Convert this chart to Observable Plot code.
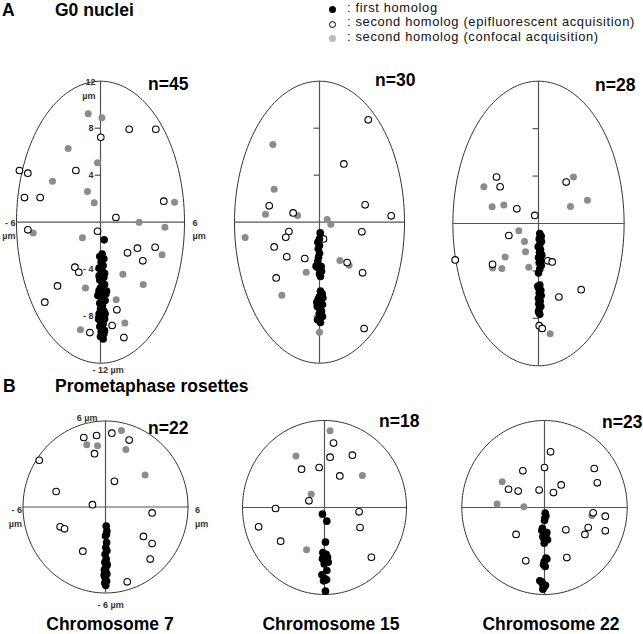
<!DOCTYPE html>
<html><head><meta charset="utf-8">
<script src="https://cdn.jsdelivr.net/npm/d3@7"></script>
<script src="https://cdn.jsdelivr.net/npm/@observablehq/plot@0.6"></script>
<style>
body{margin:0;background:#fff;}
#fig{position:relative;width:643px;height:634px;overflow:hidden;font-family:"Liberation Sans",Arial,sans-serif;color:#000;}
.t{position:absolute;white-space:nowrap;line-height:1;}
.b{font-weight:bold;font-size:17.5px;}
.c{text-align:center;width:200px;}
.lg{font-size:12.9px;letter-spacing:0.65px;color:#111;}
.mk{position:absolute;width:7px;height:7px;border-radius:50%;box-sizing:border-box;}
</style>
</head><body>
<div id="fig"></div>
<script>
// ---------- text ----------
const rowTitles = [["A", "G0 nuclei"], ["B", "Prometaphase rosettes"]];
const chromosomes = ["Chromosome 7", "Chromosome 15", "Chromosome 22"];
const countsG0 = [45, 30, 28];
const countsPro = [22, 18, 23];
const legendLabels = [": first homolog", ": second homolog (epifluorescent acquisition)", ": second homolog (confocal acquisition)"];
const g0TickValues = [8, 4, -4, -8];
const g0TickLabels = ["8", "4", "- 4", "- 8"];

// ---------- data (µm) ----------
// G0 nuclei, chromosome 7
const g0c7First = [[0.26,-1.5],[0.12,-2.7],[-0.05,-2.92],[0.24,-3.12],[0.05,-3.4],[0.19,-3.69],[-0.1,-3.91],[0.14,-4.17],[0,-4.45],[0.24,-4.68],[-0.05,-4.91],[0.12,-5.14],[0.29,-5.31],[0,-5.59],[0.19,-5.82],[-0.1,-6.04],[0.24,-6.24],[0.07,-6.47],[0.33,-6.67],[-0.05,-6.89],[0.14,-7.09],[0,-7.38],[0.24,-7.57],[-0.1,-7.8],[0.12,-8.03],[0.29,-8.23],[0,-8.43],[0.19,-8.65],[-0.05,-8.88],[0.14,-9.08],[0.05,-9.31],[0.24,-9.5],[0,-9.73],[0.19,-9.93],[0.43,-5.87],[0.38,-6.1],[-0.19,-6.24],[0.1,-6.01],[0.29,-4.34],[-0.1,-4.57],[0.33,-7.8],[-0.14,-8.23],[0.1,-9.62],[0.29,-9.22],[-0.1,-5.82]];
const g0c7Epi = [[0.02,7.23],[2.05,7.91],[3.95,7.91],[-5.79,4.4],[-5.19,4.17],[-1.76,4.4],[-5.43,2.1],[-4.31,2.1],[4.52,1.79],[1.1,0.4],[-5.19,-0.65],[-0.21,-0.77],[1.93,-2.61],[2.64,-2.21],[3.9,-2.13],[3.02,-3.29],[-1.83,-3.83],[-1.55,-4.26],[-3.07,-5.42],[-3.98,-6.81],[1.17,-7.46],[0.83,-8.79],[-0.76,-9.39],[1.67,-9.82]];
const g0c7Conf = [[-0.88,9.22],[0.1,8.88],[-2.31,6.27],[-0.21,5.05],[-3.43,3.49],[-0.93,2.61],[-0.45,1.65],[5.29,1.7],[2.76,0],[4.6,-0.43],[-4.81,-0.91],[-1.29,-1.33],[4.4,-2.78],[1.6,-4.43],[3.05,-5.3],[-1.07,-5.59],[1.12,-6.61],[1.74,-8.57],[-1.43,-9.16]];
// G0 nuclei, chromosome 15
const g0c15First = [[0.05,-0.91],[-0.12,-1.7],[0,-1.99],[-0.09,-2.27],[0,-2.64],[-0.07,-2.98],[-0.12,-3.32],[-0.24,-3.74],[-0.09,-3.89],[0.07,-4.06],[0,-4.4],[0.14,-4.17],[0.07,-4.62],[0.07,-5.87],[0.19,-6.1],[0,-6.33],[-0.09,-6.55],[0.07,-6.78],[0.21,-7.0],[-0.16,-7.18],[0.02,-7.38],[0.14,-7.57],[-0.02,-7.8],[0.21,-8.03],[-0.14,-8.31],[0.07,-8.54],[0,-1.42],[0.24,-6.44],[-0.19,-6.81],[0.12,-3.77]];
const g0c15Epi = [[3.44,8.71],[1.72,4.96],[-3.55,1.39],[3.22,1.48],[-1.86,0.79],[5.06,0.54],[-2.16,-0.79],[-2.38,-1.28],[2.99,-0.82],[0.28,-1.42],[-3.2,-2.1],[-2.31,-2.95],[-1.04,-3.09],[1.95,-3.43],[3.04,-4.31],[-3.06,-4.74],[3.15,-9.05]];
const g0c15Conf = [[-3.29,6.61],[-3.2,2.81],[-3.81,0.68],[-1.55,0.57],[0.54,0.23],[0.8,-0.17],[-5.25,-1.3],[1.44,-3.26],[2.09,-3.66],[-0.94,-4.26],[-2.66,-6.21],[0,-9.36]];
// G0 nuclei, chromosome 22
const g0c22First = [[0.09,-0.85],[0.19,-1.07],[0.05,-1.3],[0.21,-1.52],[0.09,-1.75],[-0.02,-1.97],[0.14,-2.2],[0.07,-2.42],[0.23,-2.65],[0,-2.87],[0.16,-3.1],[0.05,-3.32],[0.19,-3.55],[0.09,-3.83],[0,-4.17],[0.09,-5.18],[0,-5.41],[0.16,-5.63],[0.05,-5.86],[0.19,-6.08],[0,-6.31],[0.12,-6.54],[0.02,-6.76],[0.16,-6.99],[0.05,-7.21],[0,-7.44],[0.09,-7.66],[-0.05,-5.3]];
const g0c22Epi = [[-2.94,3.92],[-2.69,3.1],[1.94,3.49],[-1.52,1.24],[-0.26,0.68],[-2.08,-1.01],[-5.84,-3.07],[-3.22,-3.44],[0.65,-3.15],[0.96,-3.24],[2.99,-5.58],[1.43,-6.2],[0.05,-8.62],[0.26,-8.85]];
const g0c22Conf = [[-3.83,3.1],[-3.25,1.41],[-2.43,1.55],[2.45,3.92],[3.43,1.97],[2.24,1.44],[-1.38,-0.62],[-0.98,-1.52],[-0.91,-2.39],[-2.34,-2.82],[-3.22,-3.75],[-2.57,-3.8],[-0.68,-3.69],[0.82,-9.3]];
// Prometaphase rosettes, chromosome 7
const pro7First = [[0.05,-1.33],[0.1,-1.68],[0,-2.02],[0.08,-2.48],[0.02,-2.83],[0.1,-3.06],[0.05,-3.63],[-0.05,-3.86],[0.1,-4.09],[0,-4.25],[-0.08,-4.39],[0.05,-4.55],[0.1,-4.67],[-0.05,-4.85],[0,-5.01],[0.08,-5.17],[-0.05,-5.31],[0.02,-5.47],[0.07,-1.9],[-0.03,-3.3],[0.12,-4.0],[-0.1,-4.75]];
const pro7Epi = [[-1.58,4.85],[-0.65,4.99],[0.46,5.15],[1.72,4.67],[-0.8,3.72],[-4.82,3.26],[0.65,1.79],[-3.59,1.08],[-0.95,0.16],[3.39,-0.41],[-3.3,-1.38],[-2.98,-1.52],[2.76,-2.05],[3.39,-2.55],[-1.65,-3.08],[3.25,-3.63],[1.58,-5.22]];
const pro7Conf = [[1.16,5.33],[-1.36,4.34],[-0.58,4.28],[1.48,4.02],[2.88,2.23]];
// Prometaphase rosettes, chromosome 15
const pro15First = [[-0.15,-0.46],[0.17,-0.94],[0.07,-2.39],[0.12,-3.22],[-0.07,-3.33],[0.22,-3.43],[-0.15,-3.54],[0.1,-3.66],[0.27,-3.77],[-0.02,-3.89],[0.17,-4.34],[-0.19,-4.64],[0.05,-4.92],[-0.07,-5.06],[0.07,-5.77],[0,-3.72],[0.15,-4.99],[-0.12,-3.1]];
const pro15Epi = [[0.66,4.44],[0.41,3.47],[2.04,3.61],[-1.68,2.64],[-0.39,2.76],[1.12,2.18],[-1.14,0.46],[-3.58,-0.07],[2.53,-0.3],[-4.82,-1.33],[2.6,-1.38],[-3.21,-2.32],[3.43,-3.43]];
const pro15Conf = [[0.41,5.29],[-2.09,3.56],[2.77,2.21],[-0.97,0.92],[-1.31,-2.92]];
// Prometaphase rosettes, chromosome 22
const pro22First = [[0.05,-0.39],[0.1,-0.57],[0.02,-0.74],[-0.15,-1.43],[-0.19,-1.59],[0.1,-1.89],[-0.07,-2.11],[0.22,-2.23],[-0.02,-2.46],[0.1,-3.49],[-0.02,-3.72],[-0.07,-3.95],[-0.34,-5.06],[-0.15,-5.26],[-0.02,-5.49],[-0.12,-5.63],[0,-0.9],[0.17,-1.72],[-0.12,-2.0],[0.17,-3.56],[0.05,-4.07],[-0.19,-5.13],[0.07,-5.36]];
const pro22Epi = [[0.44,3.84],[-1.57,2.53],[0,2.76],[3.61,2.69],[3.83,1.7],[-2.61,1.26],[-1.91,1.13],[-0.39,1.2],[1.21,1.56],[0.65,1.03],[3.53,-0.37],[4.41,-0.6],[3.17,-1.38],[2.93,-1.86],[4.41,-1.61],[1.55,-1.54],[-2.06,-1.86],[1.62,-3.45],[-1.36,-3.68]];
const pro22Conf = [[-3.07,1.77],[-3.44,0.25],[-1.5,0.05],[3.44,-0.55]];

// ---------- layout ----------
const fig = document.getElementById("fig");
const FONT = '"Liberation Sans", Arial, sans-serif';
const W = 220, LCX = 110;

function addText(txt, cls, left, top, extra) {
  const d = document.createElement("div");
  d.className = "t " + cls;
  d.textContent = txt;
  d.style.left = left + "px";
  d.style.top = top + "px";
  if (extra) Object.assign(d.style, extra);
  fig.appendChild(d);
  return d;
}

const pts = a => a.map(([x, y]) => ({x, y}));

function panel(cfg) {
  const {first, epi, conf, yMax, cx, cy, rx, ry, top, height, labels, ticks} = cfg;
  const lcy = cy - top;
  const outline = d3.range(0, 361, 2).map(a => ({x: 6 * Math.cos(a * Math.PI / 180), y: yMax * Math.sin(a * Math.PI / 180)}));
  const lbl = {fontSize: 9, fontWeight: "bold", fill: "#333", fontFamily: FONT};
  const marks = [
    Plot.line(outline, {x: "x", y: "y", stroke: "#333", strokeWidth: 1}),
    Plot.ruleX([0], {y1: -yMax, y2: yMax, stroke: "#555", strokeWidth: 1.2}),
    Plot.ruleY([0], {x1: -6, x2: 6, stroke: "#555", strokeWidth: 1.2})
  ];
  if (ticks) marks.push(Plot.ruleY(g0TickValues, {x1: -0.38, x2: 0, stroke: "#555", strokeWidth: 1.2}));
  marks.push(
    Plot.dot(pts(conf), {x: "x", y: "y", r: 3.5, fill: "#8c8c8c", stroke: null}),
    Plot.dot(pts(epi), {x: "x", y: "y", r: 3.3, fill: "white", stroke: "black", strokeWidth: 1.1}),
    Plot.dot(pts(first), {x: "x", y: "y", r: 3.8, fill: "black", stroke: null})
  );
  if (labels === "g0") {
    marks.push(
      Plot.text(g0TickValues.map((v, i) => ({y: v, t: g0TickLabels[i]})), {x: 0, y: "y", text: "t", textAnchor: "end", dx: -7, ...lbl}),
      Plot.text([{x: 0, y: yMax, t: "12\nµm"}], {x: "x", y: "y", text: "t", textAnchor: "end", dx: -5, lineAnchor: "top", dy: -5, lineHeight: 1.45, ...lbl}),
      Plot.text([{x: -6, y: 0, t: "- 6\nµm"}], {x: "x", y: "y", text: "t", textAnchor: "end", dx: -1, lineAnchor: "top", dy: -5, lineHeight: 1.4, ...lbl}),
      Plot.text([{x: 6, y: 0, t: "6\nµm"}], {x: "x", y: "y", text: "t", textAnchor: "start", dx: 8, lineAnchor: "top", dy: -5, lineHeight: 1.4, ...lbl}),
      Plot.text([{x: 0, y: -yMax, t: "- 12 µm"}], {x: "x", y: "y", text: "t", textAnchor: "start", dx: -8, dy: 7, ...lbl})
    );
  } else if (labels === "pro") {
    marks.push(
      Plot.text([{x: 0, y: yMax, t: "6 µm"}], {x: "x", y: "y", text: "t", textAnchor: "end", dx: -8, dy: -3, ...lbl}),
      Plot.text([{x: -6, y: 0, t: "- 6\nµm"}], {x: "x", y: "y", text: "t", textAnchor: "end", dx: -1, lineAnchor: "top", dy: -5, lineHeight: 1.65, ...lbl}),
      Plot.text([{x: 6, y: 0, t: "6\nµm"}], {x: "x", y: "y", text: "t", textAnchor: "start", dx: 7, lineAnchor: "top", dy: -5, lineHeight: 1.65, ...lbl}),
      Plot.text([{x: 0, y: -yMax, t: "- 6 µm"}], {x: "x", y: "y", text: "t", textAnchor: "start", dx: -8, dy: 12, ...lbl})
    );
  }
  const svg = Plot.plot({
    width: W, height, margin: 0,
    x: {domain: [-6, 6], range: [LCX - rx, LCX + rx], axis: null},
    y: {domain: [-yMax, yMax], range: [lcy + ry, lcy - ry], axis: null},
    style: {background: "transparent", overflow: "visible", position: "absolute", left: (cx - LCX) + "px", top: top + "px", maxWidth: "none"},
    marks
  });
  fig.appendChild(svg);
}

const rowA = {yMax: 12, top: 60, height: 320, ticks: true};
const rowB = {yMax: 6, top: 395, height: 225, ticks: false};
panel({...rowA, first: g0c7First, epi: g0c7Epi, conf: g0c7Conf, cx: 100.3, cy: 221.7, rx: 84, ry: 141, labels: "g0"});
panel({...rowA, first: g0c15First, epi: g0c15Epi, conf: g0c15Conf, cx: 319.2, cy: 221.7, rx: 85, ry: 141});
panel({...rowA, first: g0c22First, epi: g0c22Epi, conf: g0c22Conf, cx: 537.8, cy: 223, rx: 85.6, ry: 142.3});
panel({...rowB, first: pro7First, epi: pro7Epi, conf: pro7Conf, cx: 105.3, cy: 506.5, rx: 82.5, ry: 86, labels: "pro"});
panel({...rowB, first: pro15First, epi: pro15Epi, conf: pro15Conf, cx: 324, cy: 507, rx: 82, ry: 87});
panel({...rowB, first: pro22First, epi: pro22Epi, conf: pro22Conf, cx: 543.5, cy: 507, rx: 82.7, ry: 87});

// titles
addText(rowTitles[0][0], "b", 2, 1.7);
addText(rowTitles[0][1], "b", 55, 1.7);
addText(rowTitles[1][0], "b", 3, 377.8);
addText(rowTitles[1][1], "b", 55, 377.8);
// counts
const nPosA = [[148, 75.5], [375, 72.3], [595, 76.5]];
const nPosB = [[148, 419.5], [379, 412.8], [602, 414.3]];
countsG0.forEach((n, i) => addText("n=" + n, "b", nPosA[i][0], nPosA[i][1]));
countsPro.forEach((n, i) => addText("n=" + n, "b", nPosB[i][0], nPosB[i][1]));
// chromosome labels
const chrCenters = [110, 331, 551];
chromosomes.forEach((c, i) => addText(c, "b c", chrCenters[i] - 100, 615.8));
// legend
const legendStyles = [
  {background: "#000"},
  {background: "#fff", border: "1.2px solid #000"},
  {background: "#bcbcbc"}
];
legendLabels.forEach((l, i) => {
  const yc = 9.5 + i * 14.5;
  addText(l, "lg", 347, yc - 7.6);
  const m = document.createElement("div");
  m.className = "mk";
  Object.assign(m.style, legendStyles[i], {left: (332 - 3.5) + "px", top: (yc - 3.5) + "px"});
  fig.appendChild(m);
});
</script>
</body></html>
